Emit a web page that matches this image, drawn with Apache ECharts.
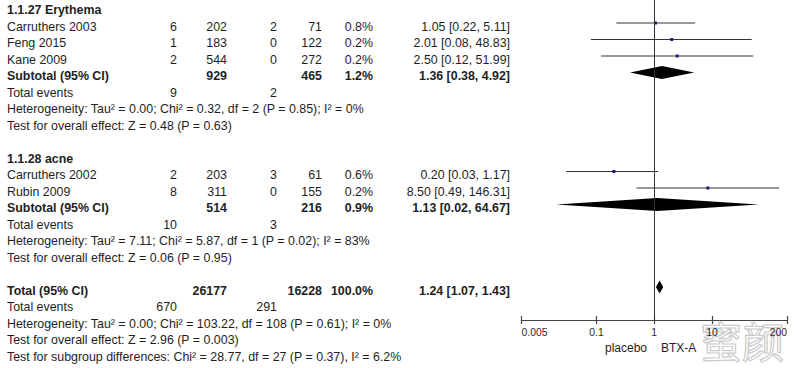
<!DOCTYPE html>
<html><head><meta charset="utf-8">
<script src="https://cdn.jsdelivr.net/npm/echarts@6/dist/echarts.min.js"></script>
<style>html,body{margin:0;padding:0;background:#fff}#c{width:800px;height:368px}</style>
</head><body><div id="c"></div>
<script>
// ---- data ----
const groupTitles = ['1.1.27 Erythema', '1.1.28 acne'];
const studyNames = ['Carruthers 2003', 'Feng 2015', 'Kane 2009', 'Carruthers 2002', 'Rubin 2009'];
const studyGroup = [0, 0, 0, 1, 1];
const expEvents = [6, 1, 2, 2, 8];
const expTotal = [202, 183, 544, 203, 311];
const ctlEvents = [2, 0, 0, 3, 0];
const ctlTotal = [71, 122, 272, 61, 155];
const studyWeight = [0.8, 0.2, 0.2, 0.6, 0.2];
const studyOR = [1.05, 2.01, 2.50, 0.20, 8.50];
const studyLo = [0.22, 0.08, 0.12, 0.03, 0.49];
const studyHi = [5.11, 48.83, 51.99, 1.17, 146.31];

const subExpTotal = [929, 514];
const subCtlTotal = [465, 216];
const subWeight = [1.2, 0.9];
const subOR = [1.36, 1.13];
const subLo = [0.38, 0.02];
const subHi = [4.92, 64.67];
const subExpEvents = [9, 10];
const subCtlEvents = [2, 3];
const subHet = ['Heterogeneity: Tau² = 0.00; Chi² = 0.32, df = 2 (P = 0.85); I² = 0%',
                'Heterogeneity: Tau² = 7.11; Chi² = 5.87, df = 1 (P = 0.02); I² = 83%'];
const subTest = ['Test for overall effect: Z = 0.48 (P = 0.63)',
                 'Test for overall effect: Z = 0.06 (P = 0.95)'];

const totExpTotal = 26177, totCtlTotal = 16228, totWeight = 100.0;
const totOR = 1.24, totLo = 1.07, totHi = 1.43;
const totExpEvents = 670, totCtlEvents = 291;
const totLines = ['Heterogeneity: Tau² = 0.00; Chi² = 103.22, df = 108 (P = 0.61); I² = 0%',
                  'Test for overall effect: Z = 2.96 (P = 0.003)',
                  'Test for subgroup differences: Chi² = 28.77, df = 27 (P = 0.37), I² = 6.2%'];
const tickValues = [0.005, 0.1, 1, 10, 200];
const favourLeft = 'placebo', favourRight = 'BTX-A';

// ---- layout ----
const rowTextY = r => 10.3 + 16.5 * r;
const COL = {name: 7, ee: 177, et: 227, ce: 277, ct: 322, w: 373, or: 510};
const FONT = '"Liberation Sans", Arial, sans-serif';
const FS = '12.4px ';
const TXT = '#1e1e1e';
const fmtOR = (o, l, h) => o.toFixed(2) + ' [' + l.toFixed(2) + ', ' + h.toFixed(2) + ']';

const graphics = [];
function t(text, x, r, align, bold) {
  graphics.push({type: 'text', silent: true, style: {
    text: String(text), x: x, y: rowTextY(r), align: align || 'left', verticalAlign: 'middle',
    font: (bold ? 'bold ' : '') + FS + FONT, fill: TXT}});
}

// build rows
const studyRows = [], subRows = [];
let row = 0;
for (let g = 0; g < groupTitles.length; g++) {
  t(groupTitles[g], COL.name, row, 'left', true); row++;
  for (let i = 0; i < studyNames.length; i++) {
    if (studyGroup[i] !== g) continue;
    t(studyNames[i], COL.name, row);
    t(expEvents[i], COL.ee, row, 'right');
    t(expTotal[i], COL.et, row, 'right');
    t(ctlEvents[i], COL.ce, row, 'right');
    t(ctlTotal[i], COL.ct, row, 'right');
    t(studyWeight[i].toFixed(1) + '%', COL.w, row, 'right');
    t(fmtOR(studyOR[i], studyLo[i], studyHi[i]), COL.or, row, 'right');
    studyRows[i] = row; row++;
  }
  t('Subtotal (95% CI)', COL.name, row, 'left', true);
  t(subExpTotal[g], COL.et, row, 'right', true);
  t(subCtlTotal[g], COL.ct, row, 'right', true);
  t(subWeight[g].toFixed(1) + '%', COL.w, row, 'right', true);
  t(fmtOR(subOR[g], subLo[g], subHi[g]), COL.or, row, 'right', true);
  subRows[g] = row; row++;
  t('Total events', COL.name, row);
  t(subExpEvents[g], COL.ee, row, 'right');
  t(subCtlEvents[g], COL.ce, row, 'right'); row++;
  t(subHet[g], COL.name, row); row++;
  t(subTest[g], COL.name, row); row++;
  row++;
}
t('Total (95% CI)', COL.name, row, 'left', true);
t(totExpTotal, COL.et, row, 'right', true);
t(totCtlTotal, COL.ct, row, 'right', true);
t(totWeight.toFixed(1) + '%', COL.w, row, 'right', true);
t(fmtOR(totOR, totLo, totHi), COL.or, row, 'right', true);
const totRow = row; row++;
t('Total events', COL.name, row);
t(totExpEvents, COL.ee, row, 'right');
t(totCtlEvents, COL.ce, row, 'right'); row++;
totLines.forEach(s => { t(s, COL.name, row); row++; });

graphics.push({type: 'text', silent: true, style: {text: favourLeft, x: 647, y: 348, align: 'right', verticalAlign: 'middle', font: '12px ' + FONT, fill: TXT}});
graphics.push({type: 'text', silent: true, style: {text: favourRight, x: 661, y: 348, align: 'left', verticalAlign: 'middle', font: '12px ' + FONT, fill: TXT}});
// watermark (drawn behind the axis labels)
graphics.push({type: 'text', silent: true, z: -10, style: {text: '蜜颜', x: 742, y: 339, align: 'center', verticalAlign: 'middle', font: '42px "Noto Sans CJK SC"', fill: 'rgba(255,255,255,0)', stroke: '#cacaca', lineWidth: 1.2}});

const ciData = studyNames.map((_, i) => [studyLo[i], studyHi[i], studyOR[i], studyRows[i]]);
const diamondData = subOR.map((_, g) => [subLo[g], subHi[g], subOR[g], subRows[g]]);
diamondData.push([totLo, totHi, totOR, totRow]);

const axisBase = {
  type: 'log', logBase: 10, min: 0.005, max: 200, position: 'bottom',
  splitLine: {show: false}, minorTick: {show: false}
};
const gridRect = {left: 521.5, width: 265.5, top: 0, height: 320};

const chart = echarts.init(document.getElementById('c'), null, {renderer: 'svg'});
chart.setOption({
  animation: false,
  grid: [Object.assign({}, gridRect), Object.assign({}, gridRect)],
  xAxis: [
    Object.assign({}, axisBase, {
      gridIndex: 0,
      axisLine: {show: true, onZero: false, lineStyle: {color: '#444', width: 1.2}},
      axisTick: {show: true, length: 4, inside: false, customValues: tickValues, lineStyle: {color: '#444', width: 1.2}},
      axisLabel: {show: true, customValues: tickValues, margin: 7, color: '#2a2a2a', fontSize: 10.4, fontFamily: FONT,
        alignMinLabel: 'left', alignMaxLabel: 'right', formatter: v => String(+v.toPrecision(3))}
    }),
    Object.assign({}, axisBase, {
      gridIndex: 1,
      axisLine: {show: false, onZero: false},
      axisTick: {show: true, length: 4, inside: true, customValues: tickValues, lineStyle: {color: '#444', width: 1.2}},
      axisLabel: {show: false}
    })
  ],
  yAxis: [
    {gridIndex: 0, type: 'value', inverse: true, min: -0.394, max: 19.0, show: false},
    {gridIndex: 1, type: 'value', inverse: true, min: -0.394, max: 19.0, show: false}
  ],
  graphic: graphics,
  series: [
    {
      type: 'custom', xAxisIndex: 0, yAxisIndex: 0, data: ciData, encode: {x: [0, 1, 2], y: 3},
      renderItem: (params, api) => {
        const a = api.coord([api.value(0), api.value(3)]);
        const b = api.coord([api.value(1), api.value(3)]);
        const p = api.coord([api.value(2), api.value(3)]);
        return {type: 'group', children: [
          {type: 'line', shape: {x1: a[0], y1: a[1], x2: b[0], y2: b[1]}, style: {stroke: '#333', lineWidth: 1}},
          {type: 'rect', shape: {x: p[0] - 1.5, y: p[1] - 1.5, width: 3, height: 3}, style: {fill: '#1c1c7a'}}
        ]};
      },
      markLine: {silent: true, symbol: 'none', label: {show: false},
        lineStyle: {color: '#333', width: 1, type: 'solid'}, data: [{xAxis: 1}]}
    },
    {
      type: 'custom', xAxisIndex: 0, yAxisIndex: 0, data: diamondData, encode: {x: [0, 1, 2], y: 3},
      renderItem: (params, api) => {
        const l = api.coord([api.value(0), api.value(3)]);
        const h = api.coord([api.value(1), api.value(3)]);
        const p = api.coord([api.value(2), api.value(3)]);
        const hh = 6.5;
        return {type: 'polygon', shape: {points: [[l[0], l[1]], [p[0], p[1] - hh], [h[0], h[1]], [p[0], p[1] + hh]]},
          style: {fill: '#000'}};
      }
    }
  ]
});
</script></body></html>
